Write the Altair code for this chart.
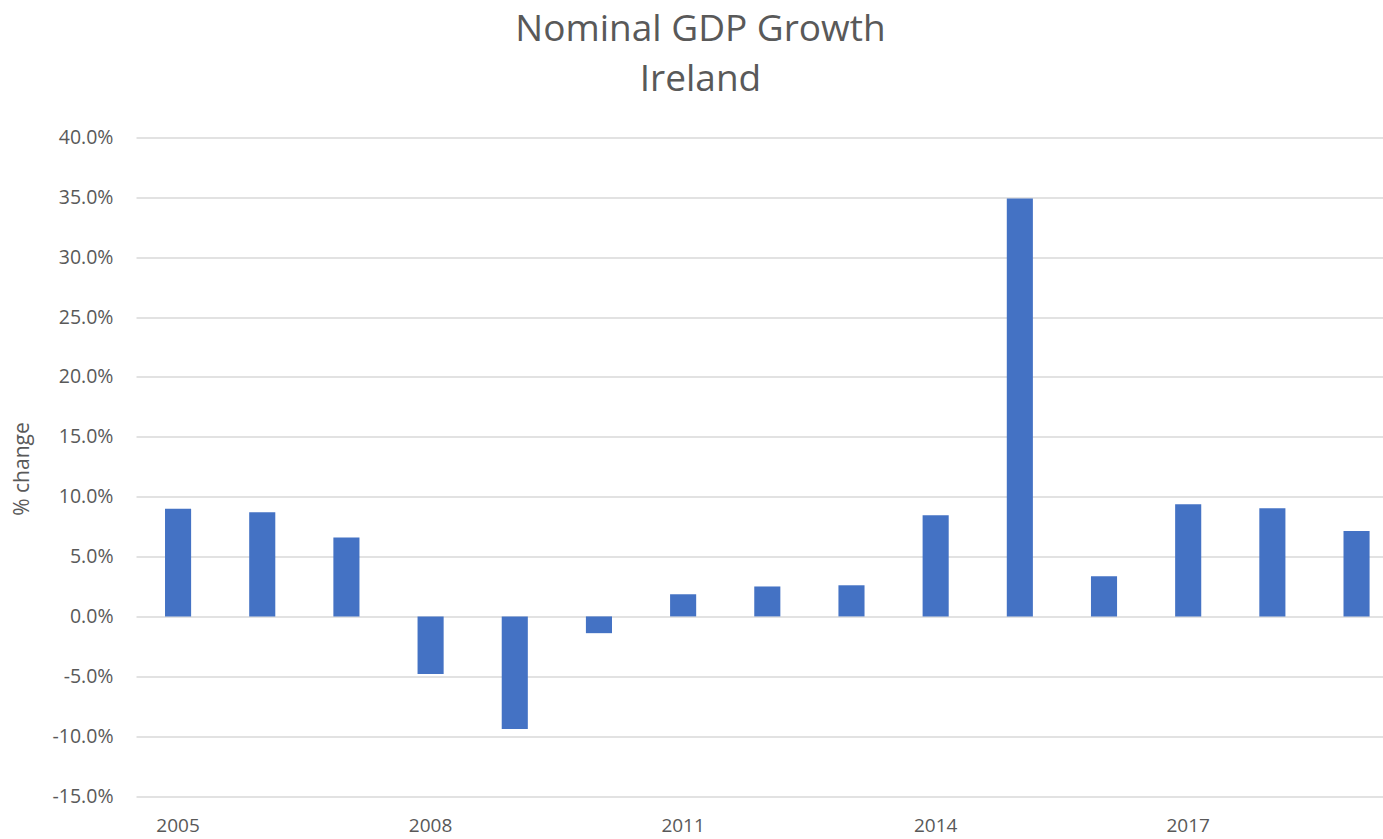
import altair as alt
import pandas as pd

years = [str(y) for y in range(2005, 2020)]
growth = [0.090, 0.087, 0.066, -0.048, -0.094, -0.014, 0.0185, 0.025, 0.026, 0.0845,
          0.349, 0.0335, 0.0936, 0.0903, 0.0714]
x_labels = ["2005", "2008", "2011", "2014", "2017"]
y_ticks = [-0.15, -0.10, -0.05, 0.0, 0.05, 0.10, 0.15, 0.20, 0.25, 0.30, 0.35, 0.40]

df = pd.DataFrame({"year": years, "growth": growth})

FONT = "Open Sans"
TXT = "#595959"

chart = alt.Chart(df).mark_bar(color="#4472C4").encode(
    x=alt.X("year:N", sort=years,
            scale=alt.Scale(paddingInner=0.69, paddingOuter=0.252, align=0.684),
            axis=alt.Axis(values=x_labels, title=None, labelAngle=0, ticks=False, tickSize=0,
                          domain=False, labelPadding=20, labelFont=FONT, labelFontSize=19,
                          labelColor=TXT)),
    y=alt.Y("growth:Q",
            scale=alt.Scale(domain=[-0.15, 0.40], nice=False, zero=False),
            axis=alt.Axis(values=y_ticks, format=".1%",
                          labelExpr="replace(datum.label, '\u2212', '-')",
                          title="% change", ticks=False, tickSize=0,
                          domain=False, labelPadding=23, labelFont=FONT, labelFontSize=19.5,
                          labelColor=TXT, gridColor="#d9d9d9", gridWidth=1.4,
                          titleFont=FONT, titleFontSize=21, titleFontWeight="normal",
                          titleColor=TXT, titleX=-114, titleY=331, titleBaseline="middle")),
).properties(
    width=1247,
    height=658.5,
    title=alt.TitleParams(["Nominal GDP Growth", "Ireland"], font=FONT, fontSize=37,
                          fontWeight="normal", color=TXT, lineHeight=50, anchor="middle",
                          dx=-59, offset=29),
    padding={"left": 136, "top": 137.5, "right": 0, "bottom": 43},
    autosize=alt.AutoSizeParams(type="none"),
).configure_view(stroke=None)

chart.save("out.html", embed_options={"renderer": "svg", "actions": False})
